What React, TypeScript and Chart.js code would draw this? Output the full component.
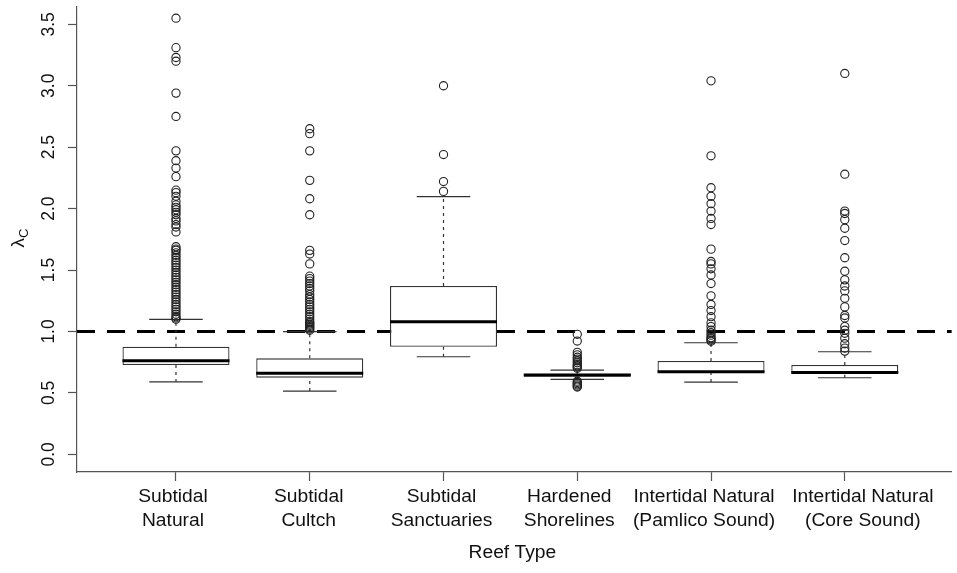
import { useEffect, useRef } from "react";
import { Chart, registerables } from "chart.js";

Chart.register(...registerables);

// ---------- data ----------
const categories: string[][] = [
  ["Subtidal", "Natural"],
  ["Subtidal", "Cultch"],
  ["Subtidal", "Sanctuaries"],
  ["Hardened", "Shorelines"],
  ["Intertidal Natural", "(Pamlico Sound)"],
  ["Intertidal Natural", "(Core Sound)"],
];

const whiskerLow = [0.589, 0.515, 0.794, 0.61, 0.588, 0.623];
const q1 = [0.727, 0.624, 0.876, 0.632, 0.668, 0.659];
const median = [0.762, 0.659, 1.079, 0.645, 0.672, 0.665];
const q3 = [0.876, 0.781, 1.37, 0.656, 0.759, 0.727];
const whiskerHigh = [1.099, 0.998, 2.097, 0.686, 0.908, 0.835];

const outliersSubtidalNatural = [
  3.55, 3.31, 3.23, 3.2, 2.94, 2.75, 2.47, 2.39, 2.33, 2.26, 2.15, 2.13, 2.1,
  2.06, 2.03, 2.01, 1.99, 1.97, 1.95, 1.92, 1.9, 1.87, 1.85, 1.81, 1.69, 1.67,
  1.66, 1.64, 1.62, 1.6, 1.58, 1.56, 1.54, 1.52, 1.5, 1.48, 1.46, 1.44, 1.42,
  1.4, 1.38, 1.36, 1.34, 1.32, 1.3, 1.28, 1.26, 1.24, 1.22, 1.2, 1.18, 1.16,
  1.14, 1.12, 1.11, 1.1,
];
const outliersSubtidalCultch = [
  2.65, 2.61, 2.47, 2.23, 2.08, 1.95, 1.66, 1.63, 1.55, 1.45, 1.43, 1.41, 1.39,
  1.37, 1.35, 1.33, 1.3, 1.28, 1.26, 1.24, 1.22, 1.2, 1.18, 1.16, 1.14, 1.12,
  1.1, 1.08, 1.07, 1.06, 1.05, 1.04, 1.03, 1.02, 1.01,
];
const outliersSubtidalSanctuaries = [3.0, 2.44, 2.22, 2.14];
const outliersHardenedShorelines = [
  0.977, 0.922, 0.83, 0.81, 0.79, 0.775, 0.76, 0.745, 0.73, 0.72, 0.71, 0.7,
  0.595, 0.585, 0.575, 0.565, 0.555, 0.548,
];
const outliersIntertidalPamlico = [
  3.04, 2.43, 2.17, 2.1, 2.04, 1.98, 1.92, 1.87, 1.67, 1.57, 1.55, 1.51, 1.46,
  1.39, 1.29, 1.22, 1.17, 1.12, 1.07, 1.04, 1.01, 0.99, 0.97, 0.95, 0.94, 0.93,
  0.92,
];
const outliersIntertidalCore = [
  3.1, 2.28, 1.98, 1.96, 1.91, 1.84, 1.74, 1.6, 1.49, 1.42, 1.37, 1.33, 1.27,
  1.2, 1.13, 1.11, 1.04, 1.01, 0.985, 0.945, 0.9, 0.865, 0.84,
];
const outliers = [
  outliersSubtidalNatural,
  outliersSubtidalCultch,
  outliersSubtidalSanctuaries,
  outliersHardenedShorelines,
  outliersIntertidalPamlico,
  outliersIntertidalCore,
];

const referenceValue = 1.0;
const yTickValues = [0, 0.5, 1, 1.5, 2, 2.5, 3, 3.5];
const yTickLabels = ["0.0", "0.5", "1.0", "1.5", "2.0", "2.5", "3.0", "3.5"];
const xTitle = "Reef Type";
const yTitleMain = "λ";
const yTitleSub = "C";

// ---------- layout / style ----------
const X_MIN = 0.26;
const X_MAX = 6.8;
const Y_MIN = -0.144;
const Y_MAX = 3.641;
const BOX_HALF = 0.4;
const CAP_HALF = 0.2;
const FONT = "'Liberation Sans', Arial, sans-serif";
const AXIS_COLOR = "#555";
const LINE_COLOR = "#333";
const TEXT_COLOR = "#111";
const LABEL_FONT_PX = 17.5;
const TEXT_STRETCH = 1.1; // horizontal stretch of the source figure's text
const LABEL_SHIFT = [-3, -1, -2, -8, -7, 18]; // px offsets of the category labels
const LABEL_FIRST_LINE = 25; // px below the plot bottom
const LABEL_LINE_GAP = 24;
const TITLE_OFFSET = 81;

type Pt = { x: number; y: number | null };

function buildMedians(): Pt[] {
  const out: Pt[] = [];
  median.forEach((m, i) => {
    const c = i + 1;
    out.push({ x: c - BOX_HALF, y: m }, { x: c + BOX_HALF, y: m }, { x: c + BOX_HALF, y: null });
  });
  return out;
}
function buildCaps(): Pt[] {
  const out: Pt[] = [];
  categories.forEach((_, i) => {
    const c = i + 1;
    out.push({ x: c - CAP_HALF, y: whiskerHigh[i] }, { x: c + CAP_HALF, y: whiskerHigh[i] }, { x: c + CAP_HALF, y: null });
    out.push({ x: c - CAP_HALF, y: whiskerLow[i] }, { x: c + CAP_HALF, y: whiskerLow[i] }, { x: c + CAP_HALF, y: null });
  });
  return out;
}
function buildWhiskers(): Pt[] {
  const out: Pt[] = [];
  categories.forEach((_, i) => {
    const c = i + 1;
    out.push({ x: c, y: q3[i] }, { x: c, y: whiskerHigh[i] }, { x: c, y: null });
    out.push({ x: c, y: whiskerLow[i] }, { x: c, y: q1[i] }, { x: c, y: null });
  });
  return out;
}

const textPlugin = {
  id: "axisTexts",
  afterDraw(chart: any) {
    const ctx = chart.ctx as CanvasRenderingContext2D;
    const xScale = chart.scales.x;
    const area = chart.chartArea;

    // category labels (two lines each)
    ctx.save();
    ctx.fillStyle = TEXT_COLOR;
    ctx.textAlign = "center";
    ctx.textBaseline = "middle";
    ctx.font = `${LABEL_FONT_PX}px ${FONT}`;
    categories.forEach((lines, i) => {
      const px = xScale.getPixelForValue(i + 1) + LABEL_SHIFT[i];
      lines.forEach((line, j) => {
        ctx.save();
        ctx.translate(px, area.bottom + LABEL_FIRST_LINE + j * LABEL_LINE_GAP);
        ctx.scale(TEXT_STRETCH, 1);
        ctx.fillText(line, 0, 0);
        ctx.restore();
      });
    });
    // x title
    ctx.save();
    ctx.translate((area.left + area.right) / 2 - 2, area.bottom + TITLE_OFFSET);
    ctx.scale(TEXT_STRETCH, 1);
    ctx.fillText(xTitle, 0, 0);
    ctx.restore();
    ctx.restore();

    // y title  λ with subscript C
    ctx.save();
    ctx.translate(17, 238);
    ctx.rotate(-Math.PI / 2);
    ctx.fillStyle = TEXT_COLOR;
    ctx.textBaseline = "alphabetic";
    ctx.textAlign = "left";
    ctx.font = `19px ${FONT}`;
    const wMain = ctx.measureText(yTitleMain).width;
    ctx.font = `13px ${FONT}`;
    const wSub = ctx.measureText(yTitleSub).width;
    const start = -(wMain + wSub) / 2;
    ctx.font = `19px ${FONT}`;
    ctx.fillText(yTitleMain, start, 7);
    ctx.font = `13px ${FONT}`;
    ctx.fillText(yTitleSub, start + wMain, 11);
    ctx.restore();
  },
};

export default function App() {
  const ref = useRef<HTMLCanvasElement | null>(null);

  useEffect(() => {
    if (!ref.current) return;
    Chart.defaults.font.family = FONT;
    const chart = new Chart(ref.current, {
      type: "bar",
      data: {
        datasets: [
          {
            type: "scatter",
            data: outliers.flatMap((arr, i) => arr.map((v) => ({ x: i + 1, y: v }))),
            pointStyle: "circle",
            pointRadius: 4.1,
            pointBorderWidth: 1.1,
            pointBorderColor: "#222",
            pointBackgroundColor: "rgba(0,0,0,0)",
            showLine: false,
          } as any,
          {
            type: "line",
            data: buildMedians(),
            borderColor: "#000",
            borderWidth: 3,
            pointRadius: 0,
            spanGaps: false,
          } as any,
          {
            type: "line",
            data: buildCaps(),
            borderColor: LINE_COLOR,
            borderWidth: 1.2,
            pointRadius: 0,
            spanGaps: false,
          } as any,
          {
            type: "line",
            data: buildWhiskers(),
            borderColor: LINE_COLOR,
            borderWidth: 1.2,
            borderDash: [3, 4],
            pointRadius: 0,
            spanGaps: false,
          } as any,
          {
            type: "bar",
            data: categories.map((_, i) => ({ x: i + 1, y: [q1[i], q3[i]] })),
            backgroundColor: "#fff",
            borderColor: LINE_COLOR,
            borderWidth: 1.3,
            borderSkipped: false,
            barPercentage: 0.8,
            categoryPercentage: 1,
            grouped: false,
          } as any,
          {
            type: "line",
            data: [
              { x: X_MIN, y: referenceValue },
              { x: X_MAX, y: referenceValue },
            ],
            borderColor: "#000",
            borderWidth: 3,
            borderDash: [18, 12],
            pointRadius: 0,
          } as any,
        ],
      },
      options: {
        responsive: false,
        animation: false,
        events: [],
        devicePixelRatio: 1,
        layout: { padding: { top: 7, right: 0, bottom: 0, left: 0 } },
        plugins: { legend: { display: false }, tooltip: { enabled: false } },
        scales: {
          x: {
            type: "linear",
            min: X_MIN,
            max: X_MAX,
            offset: false,
            border: { display: true, color: AXIS_COLOR, width: 1.2 },
            grid: {
              display: true,
              offset: false,
              drawOnChartArea: false,
              drawTicks: true,
              tickLength: 9,
              tickWidth: 1.2,
              color: AXIS_COLOR,
            },
            ticks: { display: false, autoSkip: false },
            afterBuildTicks: (scale: any) => {
              scale.ticks = categories.map((_, i) => ({ value: i + 1 }));
            },
            afterFit: (scale: any) => {
              scale.height = 101;
              scale.paddingLeft = 0;
              scale.paddingRight = 0;
            },
          } as any,
          y: {
            type: "linear",
            min: Y_MIN,
            max: Y_MAX,
            border: { display: true, color: AXIS_COLOR, width: 1.2 },
            grid: {
              display: true,
              offset: false,
              drawOnChartArea: false,
              drawTicks: true,
              tickLength: 9,
              tickWidth: 1.2,
              color: AXIS_COLOR,
            },
            ticks: {
              minRotation: 90,
              maxRotation: 90,
              crossAlign: "center",
              padding: 7,
              color: TEXT_COLOR,
              font: { size: 17.5 },
              callback: (_v: any, idx: number) => yTickLabels[idx],
            },
            afterBuildTicks: (scale: any) => {
              scale.ticks = yTickValues.map((v) => ({ value: v }));
            },
            afterFit: (scale: any) => {
              scale.width = 77;
              scale.paddingTop = 0;
              scale.paddingBottom = 0;
            },
          } as any,
        },
      },
      plugins: [textPlugin],
    } as any);
    return () => chart.destroy();
  }, []);

  return (
    <div style={{ position: "absolute", left: 0, top: 0, width: 957, height: 573, background: "#fff" }}>
      <canvas ref={ref} width={957} height={573} style={{ display: "block" }} />
    </div>
  );
}
